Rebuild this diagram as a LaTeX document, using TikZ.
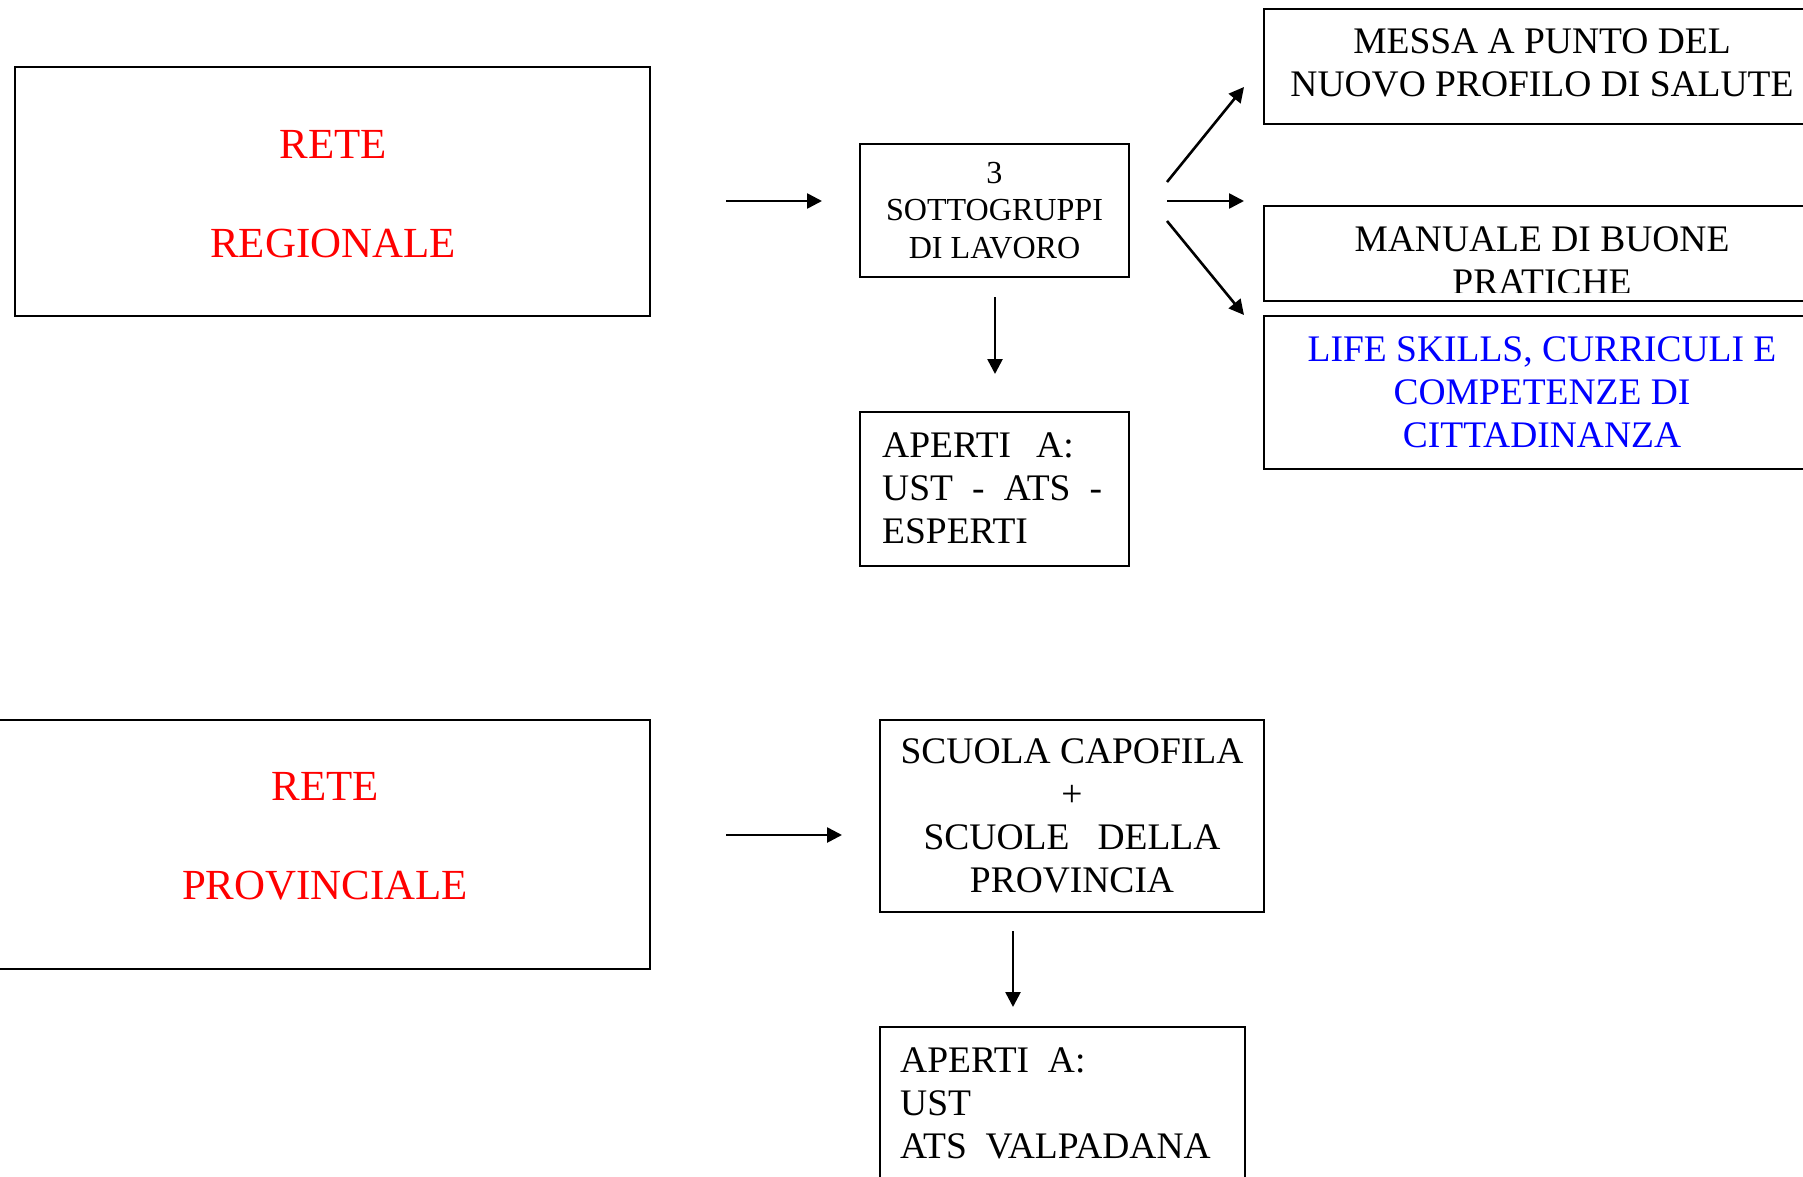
\documentclass[tikz,border=0pt]{standalone}
\usepackage{fontspec}
\setmainfont{Liberation Serif}
\usetikzlibrary{arrows.meta}
\definecolor{redtxt}{RGB}{255,0,0}
\definecolor{bluetxt}{RGB}{0,0,255}
\begin{document}
\begin{tikzpicture}[x=1pt,y=-1pt,
  box/.style={draw=black, line width=2.2pt, inner sep=0pt},
  bigtxt/.style={font=\fontsize{42.9}{49.5}\selectfont, align=center, text=redtxt, inner sep=0pt},
  midtxt/.style={font=\fontsize{37.5}{43.1}\selectfont, align=center, inner sep=0pt},
  smalltxt/.style={font=\fontsize{32.1}{37.2}\selectfont, align=center, inner sep=0pt},
  arr/.style={line width=2.6pt, -{Triangle[length=15pt,width=15pt]}}]
\useasboundingbox (0,0) rectangle (1803,1177);
\clip (0,0) rectangle (1803,1177);
\fill[white] (0,0) rectangle (1803,1177);

% ---------- RETE REGIONALE ----------
\node[box, minimum width=635pt, minimum height=249pt] (rr) at (332.5,191.5) {};
\node[bigtxt] (rrt) at (333,194.5) {RETE\\[49.5pt]REGIONALE};

\coordinate (a1s) at (726,201);
\coordinate (a1e) at (822,201);
\draw[arr] (a1s) -- (a1e);

\node[box, smalltxt, minimum width=269pt, minimum height=133pt] (sot) at (994.5,210.5)
  {3\\SOTTOGRUPPI\\DI LAVORO};

\coordinate (d1s) at (995,297);
\coordinate (d1e) at (995,374);
\draw[arr] (d1s) -- (d1e);

\node[box, minimum width=269pt, minimum height=154pt] (ap1) at (994.5,489) {};
\node[midtxt, align=left, text width=220pt, anchor=west] (ap1t) at (882,488)
  {APERTI\ \ A:\\UST\hfill-\hfill ATS\hfill-\\ESPERTI};

% arrows to the right column
\coordinate (r1s) at (1167,182);
\coordinate (r1e) at (1244,87);
\coordinate (r2s) at (1167,201);
\coordinate (r2e) at (1244,201);
\coordinate (r3s) at (1167,221);
\coordinate (r3e) at (1244,315);
\draw[arr] (r1s) -- (r1e);
\draw[arr] (r2s) -- (r2e);
\draw[arr] (r3s) -- (r3e);

\node[box, minimum width=556pt, minimum height=115pt] (messa) at (1542,66.5) {};
\node[midtxt] (messat) at (1542,62.5) {MESSA A PUNTO DEL\\NUOVO PROFILO DI SALUTE};

\node[box, minimum width=556pt, minimum height=95pt] (man) at (1542,253.5) {};
\begin{scope}
  \clip (1265,207) rectangle (1819,292);
  \node[midtxt] (mant) at (1542,260.5) {MANUALE DI BUONE\\PRATICHE};
\end{scope}

\node[box, midtxt, text=bluetxt, minimum width=556pt, minimum height=153pt] (life) at (1542,392.5)
  {LIFE SKILLS, CURRICULI E\\COMPETENZE DI\\CITTADINANZA};

% ---------- RETE PROVINCIALE ----------
\node[box, minimum width=654pt, minimum height=249pt] (rp) at (323,844.5) {};
\node[bigtxt] (rpt) at (325,836.5) {RETE\\[49.5pt]PROVINCIALE};

\coordinate (a2s) at (726,835);
\coordinate (a2e) at (842,835);
\draw[arr] (a2s) -- (a2e);

\node[box, midtxt, minimum width=384pt, minimum height=192pt] (sc) at (1072,816)
  {SCUOLA CAPOFILA\\+\\SCUOLE\ \ \ DELLA\\PROVINCIA};

\coordinate (d2s) at (1013,931);
\coordinate (d2e) at (1013,1007);
\draw[arr] (d2s) -- (d2e);

\node[box, minimum width=365pt, minimum height=173pt] (ap2) at (1062.5,1113.5) {};
\node[midtxt, align=left, anchor=west] (ap2t) at (900,1103.5)
  {APERTI\ \ A:\\UST\\ATS\ \ VALPADANA};
\end{tikzpicture}
\end{document}
